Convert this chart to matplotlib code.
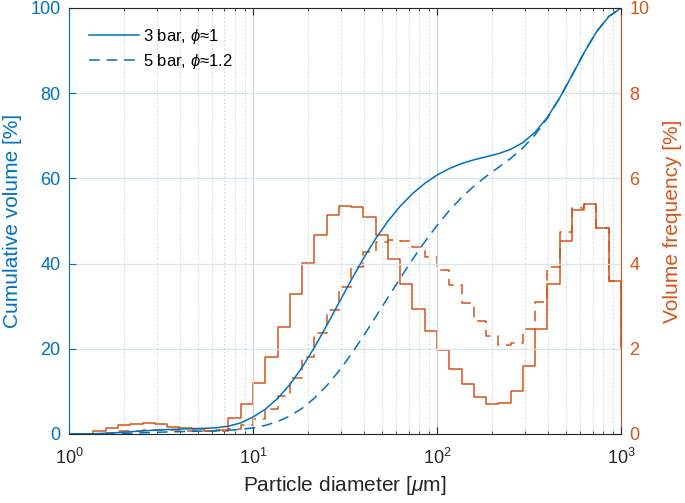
import matplotlib.pyplot as plt
import matplotlib.ticker as mticker

plt.rcParams['font.family'] = ['Liberation Sans', 'DejaVu Sans']
plt.rcParams['mathtext.fontset'] = 'custom'
plt.rcParams['mathtext.rm'] = 'Liberation Sans'
plt.rcParams['mathtext.it'] = 'Liberation Sans:italic'

# particle size classes [um], 15 classes per decade
diameter = [1.000, 1.166, 1.359, 1.585, 1.848, 2.154, 2.512, 2.929, 3.415, 3.981,
            4.642, 5.412, 6.310, 7.356, 8.577, 10.00, 11.66, 13.59, 15.85, 18.48,
            21.54, 25.12, 29.29, 34.15, 39.81, 46.42, 54.12, 63.10, 73.56, 85.77,
            100.0, 116.6, 135.9, 158.5, 184.8, 215.4, 251.2, 292.9, 341.5, 398.1,
            464.2, 541.2, 631.0, 735.6, 857.7, 1000.0]

# volume frequency [%] per size class
freq_3bar = [0, 0, 0.08, 0.13, 0.20, 0.23, 0.25, 0.23, 0.17, 0.15,
             0.11, 0.08, 0.10, 0.37, 0.70, 1.19, 1.80, 2.52, 3.29, 4.02,
             4.67, 5.13, 5.36, 5.33, 5.09, 4.66, 4.11, 3.51, 2.93, 2.41,
             1.96, 1.53, 1.17, 0.88, 0.71, 0.73, 1.01, 1.59, 2.46, 3.51,
             4.53, 5.25, 5.40, 4.84, 3.60, 2.01]
freq_5bar = [0, 0, 0.01, 0.03, 0.06, 0.08, 0.10, 0.10, 0.09, 0.08,
             0.07, 0.06, 0.07, 0.12, 0.21, 0.35, 0.59, 0.89, 1.32, 1.80,
             2.37, 2.91, 3.46, 3.93, 4.28, 4.50, 4.55, 4.53, 4.40, 4.15,
             3.84, 3.49, 3.07, 2.65, 2.30, 2.10, 2.14, 2.46, 3.09, 3.91,
             4.73, 5.31, 5.40, 4.84, 3.60, 1.96]

# cumulative volume [%]
cum_3bar = [0, 0, 0.06, 0.17, 0.33, 0.52, 0.72, 0.90, 1.03, 1.15,
            1.25, 1.33, 1.45, 1.85, 2.60, 3.99, 5.79, 8.31, 11.60, 15.62,
            20.29, 25.42, 30.78, 36.11, 41.20, 45.86, 49.97, 53.48, 56.41, 58.82,
            60.78, 62.31, 63.48, 64.36, 65.07, 65.80, 66.81, 68.40, 70.86, 74.37,
            78.90, 84.15, 89.55, 94.39, 97.99, 100.0]
cum_5bar = [0, 0, 0.01, 0.04, 0.10, 0.18, 0.28, 0.38, 0.47, 0.55,
            0.62, 0.68, 0.75, 0.87, 1.08, 1.43, 2.02, 2.91, 4.23, 6.03,
            8.40, 11.31, 14.77, 18.70, 22.98, 27.48, 32.03, 36.56, 40.96, 45.11,
            48.95, 52.44, 55.51, 58.16, 60.46, 62.56, 64.70, 67.16, 70.25, 74.16,
            78.89, 84.20, 89.60, 94.44, 98.04, 100.0]

blue = '#0072BD'
orange = '#D95319'
dark = '#262626'
dash = (0, (7, 4.5))

fig = plt.figure(figsize=(6.85, 5.03), dpi=100)
ax = fig.add_axes([0.1007, 0.1372, 0.8059, 0.8469])
ax2 = ax.twinx()

# right axis: histograms
ax2.step(diameter, freq_3bar, where='post', color=orange, lw=1.1)
ax2.step(diameter, freq_5bar, where='post', color=orange, lw=1.1, linestyle=dash)

# left axis: cumulative curves (drawn on top)
ax.plot(diameter, cum_5bar, color=blue, lw=1.1, linestyle=dash, label=r'5 bar, $\phi$≈1.2')
ax.plot(diameter, cum_3bar, color=blue, lw=1.1, label=r'3 bar, $\phi$≈1')
ax.set_zorder(ax2.get_zorder() + 1)
ax.patch.set_visible(False)

ax.set_xscale('log')
ax.set_xlim(1, 1000)
ax.set_ylim(0, 100)
ax2.set_ylim(0, 10)
ax.set_yticks([0, 20, 40, 60, 80, 100])
ax2.set_yticks([0, 2, 4, 6, 8, 10])
ax.xaxis.set_minor_locator(mticker.LogLocator(base=10, subs=range(2, 10)))
ax.xaxis.set_minor_formatter(mticker.NullFormatter())

# grid
ax.grid(True, which='major', axis='x', color='#d0d0d0', lw=0.8)
ax.grid(True, which='minor', axis='x', color='#b8b8b8', lw=0.7, linestyle=(0, (1, 3)))
ax.grid(True, which='major', axis='y', color='#d5e6f3', lw=0.9)

# spines / ticks
for s in ['top', 'bottom']:
    ax.spines[s].set_color(dark)
    ax2.spines[s].set_visible(False)
ax.spines['left'].set_color(blue)
ax.spines['right'].set_visible(False)
ax2.spines['left'].set_visible(False)
ax2.spines['right'].set_color(orange)

ax.tick_params(axis='x', which='both', direction='in', top=True, colors=dark,
               labelsize=13, pad=10)
ax.tick_params(axis='x', which='major', length=5)
ax.tick_params(axis='x', which='minor', length=2.5)
ax.tick_params(axis='y', direction='in', colors=blue, length=5, labelsize=13, pad=6)
ax2.tick_params(axis='y', direction='in', colors=orange, length=5, labelsize=13, pad=6)

ax.set_xlabel(r'Particle diameter [$\mu$m]', fontsize=15, color=dark, labelpad=4)
ax.set_ylabel('Cumulative volume [%]', fontsize=15, color=blue, labelpad=6)
ax2.set_ylabel('Volume frequency [%]', fontsize=15, color=orange, labelpad=10)

handles, labels = ax.get_legend_handles_labels()
ax.legend(handles[::-1], labels[::-1], loc='upper left', frameon=False, fontsize=12,
          handlelength=3.0, handletextpad=0.2, labelspacing=0.35,
          bbox_to_anchor=(0.01, 0.99))

fig.savefig('out.png', dpi=100)
